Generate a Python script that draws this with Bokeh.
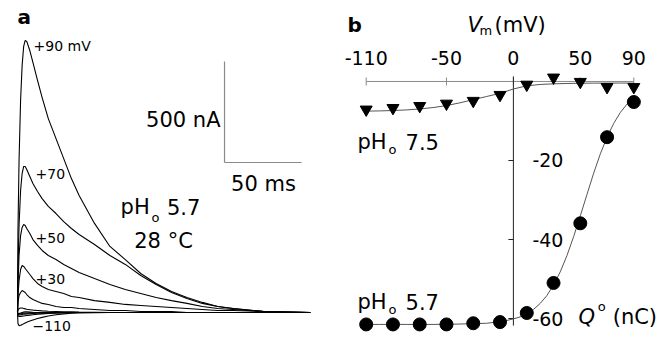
import math
from bokeh.plotting import figure
from bokeh.layouts import row
from bokeh.models import Range1d, ColumnDataSource
from bokeh.core.properties import value
from bokeh.embed import file_html
from bokeh.resources import INLINE

FONT = "DejaVu Sans"

# ---------------- Panel a: current traces (time in ms, current in nA) -------------
t_ms = [0, 0.3, 1, 2, 3, 4, 5, 6, 8, 10, 13, 16, 20, 25, 30, 35, 40, 50, 60, 70,
        80, 90, 100, 110, 120, 130, 140, 160, 190]
i_p90 = [0, 406, 752, 1050, 1223, 1317, 1347, 1342, 1297, 1238, 1149, 1064, 960, 861,
         762, 663, 579, 441, 327, 262, 193, 144, 104, 74, 50, 30, 20, 5, 0]
i_p70 = [0, 208, 431, 604, 688, 723, 723, 708, 673, 639, 599, 564, 525, 490, 450, 416,
         386, 337, 282, 238, 183, 139, 99, 69, 45, 30, 20, 5, 0]
i_p50 = [0, 134, 282, 381, 421, 436, 431, 416, 391, 361, 332, 307, 282, 262, 238, 218,
         198, 168, 139, 114, 94, 74, 59, 45, 30, 20, 15, 5, 0]
i_p30 = [0, 84, 158, 213, 233, 228, 218, 208, 188, 168, 144, 129, 114, 104, 94, 79, 74,
         59, 50, 40, 35, 30, 25, 20, 15, 10, 10, 5, 0]
i_p10 = [0, 50, 84, 99, 109, 104, 99, 89, 74, 64, 54, 45, 40, 30, 25, 25, 20, 15, 10,
         10, 5, 5, 5, 0, 0, 0, 0, 0, 0]
i_m10 = [0, 12, 20, 22, 22, 20, 18, 16, 14, 12, 10, 8, 6, 5, 4, 3, 2, 1, 0, 0, 0, 0,
         0, 0, 0, 0, 0, 0, 0]
i_m30 = [0, -3, -5, -3, 0, 2, 3, 3, 2, 1, 0, 0, 0, 0, 0, 0, 0, 0, 0, 0, 0, 0, 0, 0, 0,
         0, 0, 0, 0]
i_m50 = [0, -6, -8, -6, -5, -4, -3, -3, -2, -2, -1, -1, 0, 0, 0, 0, 0, 0, 0, 0, 0,
         0, 0, 0, 0, 0, 0, 0, 0]
i_m70 = [0, -10, -12, -11, -10, -9, -8, -7, -6, -5, -4, -3, -2, -1, 0, 0, 0, 0,
         0, 0, 0, 0, 0, 0, 0, 0, 0, 0, 0]
i_m90 = [0, -16, -20, -19, -18, -17, -16, -15, -13, -11, -9, -7, -5, -3, -2, -1, 0,
         0, 0, 0, 0, 0, 0, 0, 0, 0, 0, 0, 0]
i_m110 = [0, -55, -65, -63, -60, -56, -52, -48, -42, -37, -30, -24, -17, -11, -7, -4,
          -2, -1, 0, 0, 0, 0, 0, 0, 0, 0, 0, 0, 0]
traces = [i_m110, i_m90, i_m70, i_m50, i_m30, i_m10, i_p10, i_p30, i_p50, i_p70, i_p90]

bar_ms = 50      # scale bar, time
bar_na = 500     # scale bar, current
bar_t0 = 134.4
bar_i0 = 742.6


def bare(width, xr, yr):
    p = figure(width=width, height=338, x_range=Range1d(*xr), y_range=Range1d(*yr),
               x_axis_location=None, y_axis_location=None, min_border=0,
               toolbar_location=None, output_backend="svg", title=None)
    p.outline_line_color = None
    p.grid.visible = False
    p.background_fill_color = "white"
    p.border_fill_color = "white"
    return p


def txt(p, x, y, text, size, align="left", style="normal", baseline="middle"):
    p.text(x=[x], y=[y], text=[text], text_font=value(FONT), text_font_size=size,
           text_align=align, text_baseline=baseline, text_font_style=style,
           text_color="black")


pa = bare(340, (-11.04, 209.7), (-128.7, 1544.6))

for tr in traces:
    pa.line(t_ms, tr, line_color="#000000", line_width=1.1)

pa.segment(x0=[bar_t0, bar_t0], y0=[bar_i0, bar_i0],
           x1=[bar_t0, bar_t0 + bar_ms], y1=[bar_i0 + bar_na, bar_i0],
           line_color="#8a8a8a", line_width=1.2)

txt(pa, 0, 1463, "a", "20px", style="bold")
txt(pa, 10.4, 1317, "+90 mV", "14px")
txt(pa, 11.7, 686, "+70", "14px")
txt(pa, 11.7, 369, "+50", "14px")
txt(pa, 11.7, 166, "+30", "14px")
txt(pa, 9.7, -69, "\u2212110", "14px")
txt(pa, 131.8, 955, "500 nA", "21px", align="right")
txt(pa, 159.7, 634, "50 ms", "21px", align="center")
txt(pa, 66.9, 520, "pH", "21px")
txt(pa, 87.0, 468, "o", "13px")
txt(pa, 97.0, 520, "5.7", "21px")
txt(pa, 94.8, 356, "28 \u00b0C", "21px", align="center")

# ---------------- Panel b: charge vs voltage -------------
vm_pts = [-110, -90, -70, -50, -30, -10, 10, 30, 50, 70, 90]
q_ph57 = [-61.5, -61.5, -61.5, -61.5, -61.2, -60.9, -58.6, -51.0, -35.9, -14.1, -5.2]
q_ph75 = [-7.1, -6.7, -6.2, -5.6, -4.9, -3.4, -0.8, 1.0, -0.1, -1.4, -1.4]

vm_fit57 = [-110, -100, -90, -80, -70, -60, -50, -40, -30, -20, -15, -10, -5, 0, 5, 10,
            15, 20, 25, 30, 35, 40, 45, 50, 55, 60, 65, 70, 75, 80, 85, 90]
q_fit57 = [-61.5, -61.5, -61.5, -61.5, -61.5, -61.5, -61.45, -61.4, -61.3, -61.2, -61.0,
           -60.8, -60.5, -60.1, -59.6, -58.8, -57.7, -56.2, -54.2, -51.5, -48.2, -44.1,
           -39.3, -34.0, -28.6, -23.2, -18.3, -14.1, -10.6, -7.8, -5.7, -4.1]
vm_fit75 = [-110, -100, -90, -80, -70, -60, -50, -40, -30, -20, -10, 0, 10, 20, 30, 40,
            50, 60, 70, 80, 90]
q_fit75 = [-7.5, -7.45, -7.35, -7.2, -6.95, -6.6, -6.1, -5.4, -4.6, -3.8, -3.0, -1.9,
           -1.1, -0.75, -0.6, -0.5, -0.45, -0.42, -0.4, -0.4, -0.4]

x_ticks = [-110, -50, 0, 50, 90]
y_ticks = [-20, -40, -60]
y_axis_top = 1.3
y_axis_bottom = -61.8

pb = bare(332, (-129.2, 118.9), (-65.06, 20.5))

# horizontal (voltage) axis along Q = 0, labels above
pb.segment(x0=[x_ticks[0]], y0=[0], x1=[x_ticks[-1]], y1=[0],
           line_color="#8a8a8a", line_width=1)
pb.scatter(x_ticks, [0] * len(x_ticks), marker="dash", angle=math.pi / 2, size=8,
           line_color="#8a8a8a", line_width=1)
xsrc = ColumnDataSource(dict(x=x_ticks, y=[0] * len(x_ticks),
                             text=[str(v) for v in x_ticks]))
pb.text("x", "y", "text", source=xsrc, y_offset=-23, text_align="center",
        text_baseline="middle", text_font=value(FONT), text_font_size="19px",
        text_color="black")

# vertical (charge) axis through V = 0
pb.segment(x0=[0], y0=[y_axis_top], x1=[0], y1=[y_axis_bottom],
           line_color="#222222", line_width=1)
pb.ray(x=[0] * len(y_ticks), y=y_ticks, length=5, angle=math.pi,
       length_units="screen", line_color="#222222", line_width=1)
ysrc = ColumnDataSource(dict(x=[0] * len(y_ticks), y=y_ticks,
                             text=[str(v) for v in y_ticks]))
pb.text("x", "y", "text", source=ysrc, x_offset=19, text_align="left",
        text_baseline="middle", text_font=value(FONT), text_font_size="19px",
        text_color="black")

pb.line(vm_fit75, q_fit75, line_color="#555555", line_width=1)
pb.line(vm_fit57, q_fit57, line_color="#555555", line_width=1)
pb.scatter(vm_pts, q_ph75, marker="inverted_triangle", size=12,
           fill_color="black", line_color="black")
pb.scatter(vm_pts, q_ph57, marker="circle", size=13,
           fill_color="black", line_color="black")

txt(pb, -124.0, 14.3, "b", "20px", style="bold")
txt(pb, -34.3, 14.4, "V", "21px", style="italic")
txt(pb, -25.3, 12.9, "m", "13px")
txt(pb, -14.1, 14.4, "(mV)", "21px")
txt(pb, -116.5, -15.2, "pH", "21px")
txt(pb, -93.4, -17.3, "o", "13px")
txt(pb, -80.6, -15.2, "7.5", "21px")
txt(pb, -116.5, -55.7, "pH", "21px")
txt(pb, -93.4, -57.8, "o", "13px")
txt(pb, -80.6, -55.7, "5.7", "21px")
txt(pb, 48.7, -59.6, "Q", "21px", style="italic")
txt(pb, 63.0, -56.9, "o", "13px")
txt(pb, 74.2, -59.6, "(nC)", "21px")

layout = row(pa, pb)
open("out.html", "w").write(file_html(layout, INLINE))
